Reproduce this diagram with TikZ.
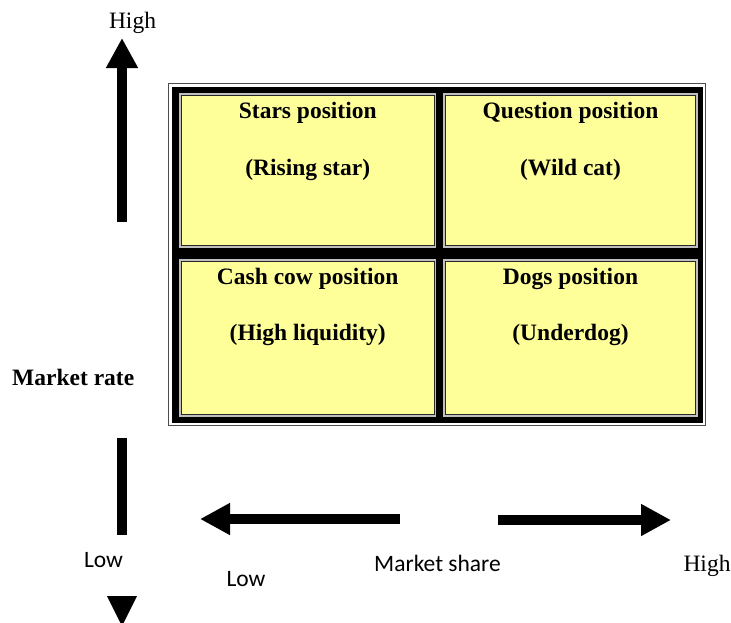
\documentclass[tikz,border=0pt]{standalone}
\usepackage{fontspec}
\setmainfont{Liberation Serif}
\newfontfamily\labelsans{Carlito}
\usetikzlibrary{arrows.meta}
\definecolor{cellyellow}{RGB}{255,255,153}

\begin{document}
\begin{tikzpicture}[x=1pt,y=-1pt,
  frameline/.style={draw=black!70, line width=1.5pt, inner sep=0pt, outer sep=0pt},
  band/.style={fill=black, inner sep=0pt, outer sep=0pt},
  cell/.style={draw=black!85, line width=1pt, fill=cellyellow, inner sep=0pt, outer sep=0pt,
    preaction={draw=black!25, line width=4.5pt}},
  celltext/.style={font=\fontsize{23.5}{28}\selectfont\bfseries, anchor=base, inner sep=0pt},
  serif label/.style={font=\fontsize{23.5}{28}\selectfont, anchor=base, inner sep=0pt},
  sans label/.style={font=\labelsans\fontsize{23.5}{28}\selectfont, anchor=base, inner sep=0pt},
  fat arrow/.style={line width=10.5pt, -{Triangle[width=30pt,length=30pt]}},
  fat shaft/.style={line width=10.5pt},
]
\useasboundingbox (0,0) rectangle (731,622);

% outer frame and black band of the matrix
\node[frameline, minimum width=537pt, minimum height=342pt, anchor=north west] (frame) at (168.5,83.5) {};
\node[band, minimum width=531pt, minimum height=336pt, anchor=north west] (band) at (171.5,86.5) {};

% the four quadrants
\node[cell, minimum width=252.5pt, minimum height=150pt, anchor=north west] (tl) at (181.5,95.5) {};
\node[cell, minimum width=250pt, minimum height=150pt, anchor=north west] (tr) at (445.5,95.5) {};
\node[cell, minimum width=252.5pt, minimum height=153.5pt, anchor=north west] (bl) at (181.5,261) {};
\node[cell, minimum width=250pt, minimum height=153.5pt, anchor=north west] (br) at (445.5,261) {};

% quadrant texts
\node[celltext] (tl-title) at (307.75,118) {Stars position};
\node[celltext] (tl-sub)   at (307.75,175) {(Rising star)};
\node[celltext] (tr-title) at (570.5,118) {Question position};
\node[celltext] (tr-sub)   at (570.5,175) {(Wild cat)};
\node[celltext] (bl-title) at (307.75,284) {Cash cow position};
\node[celltext] (bl-sub)   at (307.75,340) {(High liquidity)};
\node[celltext] (br-title) at (570.5,284) {Dogs position};
\node[celltext] (br-sub)   at (570.5,340) {(Underdog)};

% axis labels
\node[serif label] (high-y) at (132.5,28) {High};
\node[font=\fontsize{23.5}{28}\selectfont\bfseries, anchor=base west, inner sep=0pt] (rate) at (12,385) {Market rate};
\node[sans label] (low-y) at (103.5,567.5) {Low};
\node[sans label] (low-x) at (246,586.5) {Low};
\node[sans label] (share) at (437.5,571) {Market share};
\node[serif label] (high-x) at (707,571.5) {High};

% vertical axis arrows
\coordinate (up-start) at (122,222);
\coordinate (up-tip) at (122,38);
\draw[fat arrow] (up-start) -- (up-tip);
\coordinate (down-start) at (122,438);
\coordinate (down-end) at (122,535);
\draw[fat shaft] (down-start) -- (down-end);
\begin{scope}
  \clip (0,0) rectangle (731,622);
  \fill (107,596) -- (137,596) -- (122,626) -- cycle;
\end{scope}

% horizontal axis arrows
\coordinate (left-start) at (400,519);
\coordinate (left-tip) at (200,519);
\draw[fat arrow] (left-start) -- (left-tip);
\coordinate (right-start) at (498,520);
\coordinate (right-tip) at (671,520);
\draw[fat arrow] (right-start) -- (right-tip);
\end{tikzpicture}
\end{document}
